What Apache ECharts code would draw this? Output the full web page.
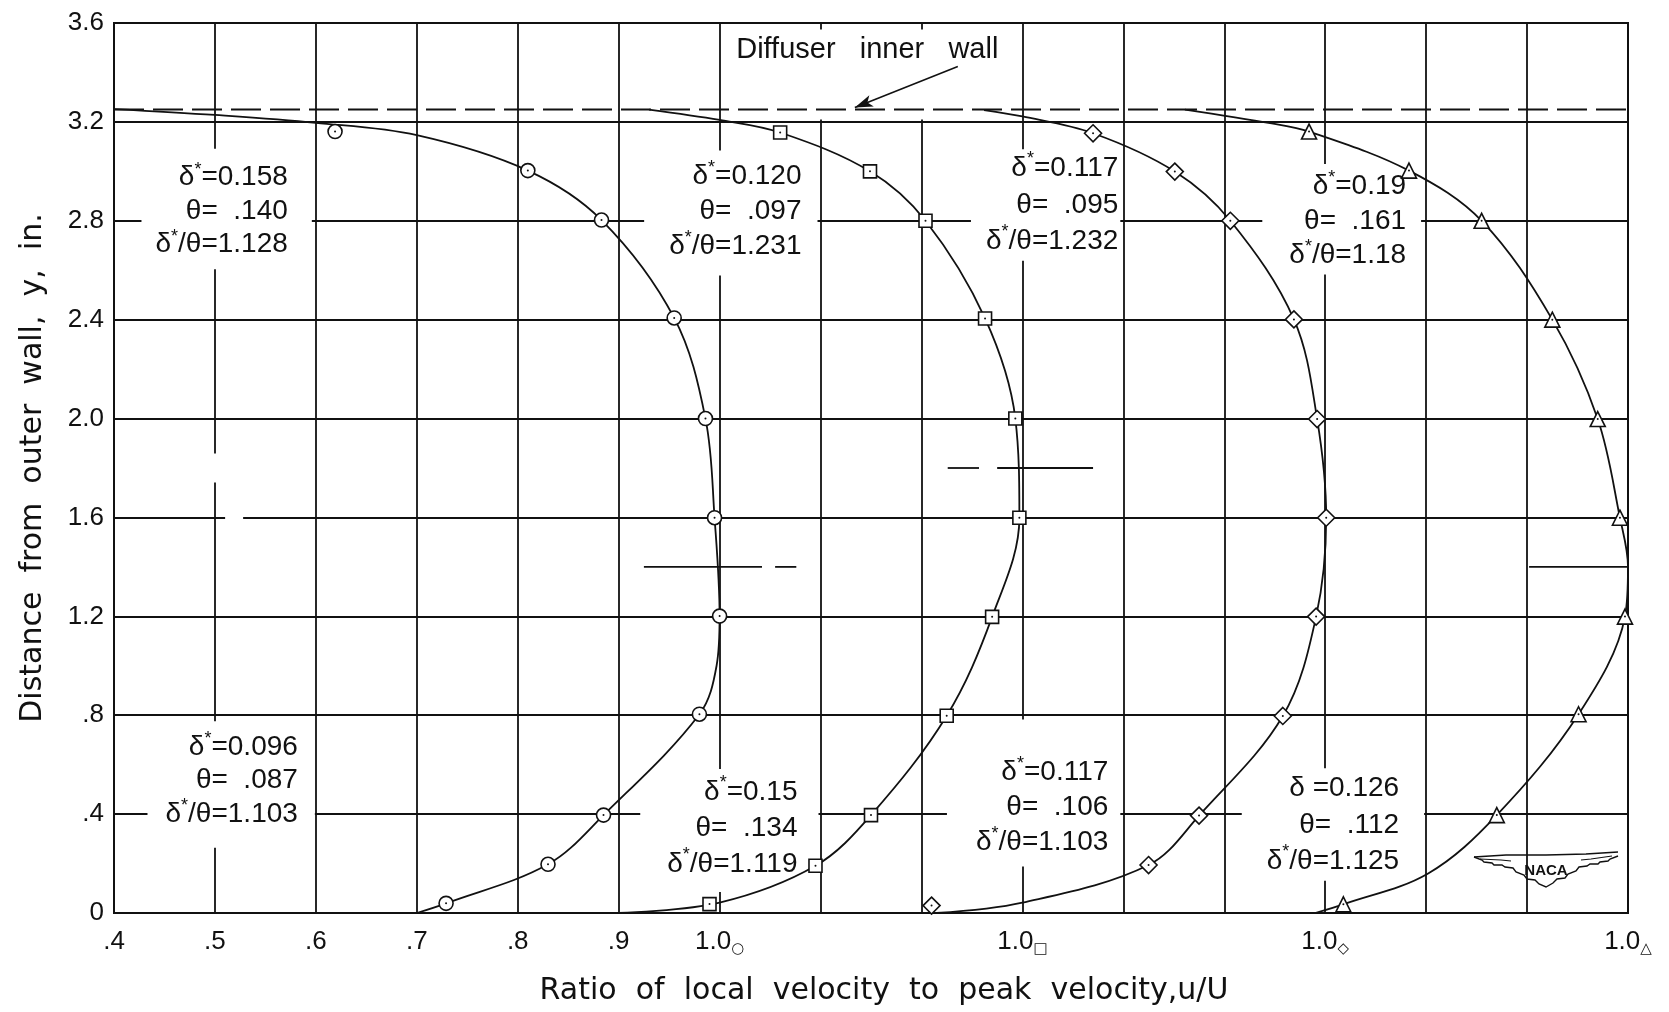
<!DOCTYPE html>
<html><head><meta charset="utf-8">
<script src="https://cdn.jsdelivr.net/npm/echarts@6/dist/echarts.min.js"></script>
<style>html,body{margin:0;padding:0;background:#fff}#c{width:1669px;height:1012px}</style>
</head><body><div id="c"></div>
<script>
// ---------- data ----------
const xTickLabels = ['.4','.5','.6','.7','.8','.9','1.0○','','','1.0□','','','1.0◇','','','1.0△'];
const yTickLabels = ['0','.4','.8','1.2','1.6','2.0','2.4','2.8','3.2','3.6'];

// measured points (abscissa shifted by 0.3 per profile), y in inches
const circlePts   = [[0.619,3.161],[0.810,3.003],[0.883,2.803],[0.955,2.407],[0.986,2.0],[0.995,1.599],[1.000,1.201],[0.980,0.804],[0.885,0.396],[0.830,0.197],[0.729,0.039]];
const squarePts   = [[1.060,3.157],[1.149,3.0],[1.204,2.80],[1.263,2.405],[1.293,2.0],[1.297,1.599],[1.270,1.198],[1.225,0.798],[1.150,0.396],[1.095,0.191],[0.990,0.036]];
const diamondPts  = [[1.370,3.154],[1.451,2.999],[1.506,2.80],[1.569,2.401],[1.592,1.998],[1.601,1.599],[1.591,1.199],[1.558,0.797],[1.475,0.394],[1.425,0.194],[1.210,0.030]];
const trianglePts = [[1.584,3.161],[1.683,3.003],[1.755,2.80],[1.825,2.40],[1.870,1.998],[1.892,1.599],[1.897,1.199],[1.851,0.804],[1.770,0.396],[1.618,0.035]];

// faired curves
const circleCurve   = [[0.4,3.252],[0.5,3.228],[0.6,3.196],[0.7,3.146],[0.810,3.003],[0.883,2.803],[0.955,2.407],[0.986,2.0],[0.995,1.599],[1.000,1.201],[0.997,1.0],[0.980,0.804],[0.885,0.396],[0.830,0.197],[0.729,0.039],[0.70,0.0]];
const squareCurve   = [[0.93,3.25],[1.0,3.208],[1.060,3.157],[1.149,3.0],[1.204,2.80],[1.263,2.405],[1.293,2.0],[1.297,1.599],[1.270,1.198],[1.225,0.798],[1.150,0.396],[1.095,0.191],[1.0,0.042],[0.90,0.0]];
const diamondCurve  = [[1.262,3.248],[1.30,3.222],[1.370,3.154],[1.451,2.999],[1.506,2.80],[1.569,2.401],[1.592,1.998],[1.601,1.599],[1.591,1.199],[1.558,0.797],[1.475,0.394],[1.425,0.194],[1.30,0.042],[1.215,0.0]];
const triangleCurve = [[1.461,3.25],[1.547,3.194],[1.584,3.161],[1.683,3.003],[1.755,2.80],[1.825,2.40],[1.870,1.998],[1.892,1.599],[1.900,1.40],[1.897,1.199],[1.851,0.804],[1.770,0.396],[1.702,0.16],[1.618,0.035],[1.59,0.0]];

const wallY = 3.25;
const wallX = [0.4, 1.9];
const partialLines = [
  [[0.925,1.4],[1.042,1.4]], [[1.055,1.4],[1.076,1.4]],
  [[1.226,1.8],[1.257,1.8]], [[1.275,1.8],[1.37,1.8]],
  [[1.802,1.4],[1.9,1.4]]
];
const arrowFrom = [1.236,3.424], arrowTo = [1.134,3.258];

// boundary-layer parameters
const deltaStarVals = ['0.158','0.096','0.120','0.117','0.19','0.15','0.117','0.126'];
const thetaVals     = ['.140','.087','.097','.095','.161','.134','.106','.112'];
const ratioVals     = ['1.128','1.103','1.231','1.232','1.18','1.119','1.103','1.125'];
const deltaStarred  = [true,true,true,true,true,true,true,false];
const wallLabel = 'Diffuser   inner   wall';

// ---------- layout (placement of text boxes) ----------
const annotLayout = [
  {at:[0.596,2.848], pad:[12,24,8,14],  lh:33.5},
  {at:[0.599,0.520], pad:[9,17,17,18],  lh:33.5},
  {at:[1.097,2.831], pad:[8,16,12,25],  lh:35},
  {at:[1.397,2.864], pad:[1,2,1,15],    lh:36.5},
  {at:[1.695,2.806], pad:[5,15,2,27],   lh:34.5},
  {at:[1.098,0.334], pad:[5,21,10,27],  lh:36},
  {at:[1.397,0.485], pad:[35,12,7,29],  lh:35},
  {at:[1.698,0.358], pad:[2,25,1,25],   lh:36.5}
];
const gridGaps = [{at:[0.519,1.6], size:[18,6]}, {at:[0.5,1.8], size:[6,29]}];

const FONT = 'Liberation Sans';
const TFONT = 'DejaVu Sans';
const INK = '#111';

function richFor(lh){
  return {
    t:{fontSize:28, fontFamily:FONT, color:INK, lineHeight:lh},
    s:{fontSize:18, fontFamily:FONT, color:INK, lineHeight:16, verticalAlign:'top'}
  };
}
function annotText(i){
  const star = deltaStarred[i] ? '{s|*}' : '{t| }';
  return '{t|δ}' + star + '{t|=' + deltaStarVals[i] + '}\n{t|θ=  ' + thetaVals[i] + '}\n{t|δ}{s|*}{t|/θ=' + ratioVals[i] + '}';
}

const series = [];
// text boxes (white background interrupts the grid, as in the original)
series.push({
  type:'scatter', z:3, symbolSize:0, silent:true, itemStyle:{opacity:1},
  data: annotLayout.map((a,i)=>({
    value:a.at,
    label:{show:true, position:'left', distance:0, align:'right', verticalAlign:'middle', opacity:1,
      backgroundColor:'#fff', padding:a.pad, formatter:annotText(i), rich:richFor(a.lh)}
  })).concat([{
    value:[1.296,3.392],
    label:{show:true, position:'left', distance:0, align:'right', verticalAlign:'middle', opacity:1,
      backgroundColor:'#fff', padding:[6,20,54,5],
      formatter:'{w|' + wallLabel + '}',
      rich:{w:{fontSize:29, fontFamily:FONT, color:INK, lineHeight:30}}}
  }])
});
series.push({
  type:'scatter', z:3, silent:true, symbol:'rect',
  itemStyle:{color:'#fff', opacity:1},
  data: gridGaps.map(g=>({value:g.at, symbolSize:g.size}))
});
// partial lines
partialLines.forEach(seg=>series.push({
  type:'line', z:4, silent:true, showSymbol:false, data:seg,
  lineStyle:{color:INK, width:1.8}
}));
// wall line + arrow
series.push({
  type:'line', z:5, silent:true, showSymbol:false,
  data:[[wallX[0],wallY],[wallX[1],wallY]],
  lineStyle:{color:INK, width:2, type:[30,9]},
  markLine:{silent:true, symbol:['none','arrow'], symbolSize:[9,18], label:{show:false},
    lineStyle:{color:INK, width:1.6, type:'solid'},
    data:[[{coord:arrowFrom},{coord:arrowTo}]]}
});
// curves
[circleCurve, squareCurve, diamondCurve, triangleCurve].forEach(c=>series.push({
  type:'line', z:5, silent:true, showSymbol:false, smooth:0.35, data:c,
  lineStyle:{color:INK, width:1.8}
}));
// markers
const markerDefs = [
  [circlePts,'circle',14],[squarePts,'rect',13],[diamondPts,'diamond',17],[trianglePts,'triangle',15]
];
markerDefs.forEach(([pts,sym,sz])=>{
  series.push({type:'scatter', z:6, silent:true, symbol:sym, symbolSize:sz, data:pts,
    itemStyle:{color:'#fff', borderColor:INK, borderWidth:1.6, opacity:1}});
  series.push({type:'scatter', z:7, silent:true, symbol:'circle', symbolSize:2, data:pts,
    itemStyle:{color:INK, opacity:1}});
});

const option = {
  backgroundColor:'#fff',
  animation:false,
  grid:{left:114, right:41, top:23, bottom:99, show:true, borderColor:INK, borderWidth:2, backgroundColor:'transparent'},
  xAxis:{
    type:'value', min:0.4, max:1.9, interval:0.1,
    name:'Ratio  of  local  velocity  to  peak  velocity,u/U', nameLocation:'middle', nameGap:63,
    nameTextStyle:{fontSize:30, fontFamily:TFONT, color:INK, padding:[0,0,0,26]},
    axisLine:{show:true, lineStyle:{color:INK, width:2}},
    axisTick:{show:false},
    splitLine:{show:true, lineStyle:{color:INK, width:1.8}},
    axisLabel:{margin:14, color:INK, fontFamily:FONT, fontSize:26,
      formatter:v=>{
        const s = xTickLabels[Math.round((v-0.4)*10)] || '';
        if (s.length>3) return '{n|'+s.slice(0,3)+'}{c|'+s.slice(3)+'}';
        return '{n|'+s+'}';
      },
      rich:{
        n:{fontSize:26, fontFamily:FONT, color:INK, lineHeight:30},
        c:{fontSize:15, fontFamily:'DejaVu Sans', color:INK, lineHeight:14, verticalAlign:'bottom'}
      }}
  },
  yAxis:{
    type:'value', min:0, max:3.6, interval:0.4,
    name:'Distance  from  outer  wall,  y,  in.', nameLocation:'middle', nameGap:66, nameRotate:90,
    nameTextStyle:{fontSize:30, fontFamily:TFONT, color:INK},
    axisLine:{show:true, lineStyle:{color:INK, width:2}},
    axisTick:{show:false},
    splitLine:{show:true, lineStyle:{color:INK, width:1.8}},
    axisLabel:{margin:10, color:INK, fontFamily:FONT, fontSize:26,
      formatter:v=>yTickLabels[Math.round(v/0.4)] || ''}
  },
  series:series
};

const chart = echarts.init(document.getElementById('c'));
chart.setOption(option);

// NACA emblem (decoration)
const cx = 1546, cy = 870;
const wingBottomL = [[-72,-13],[-64,-10],[-62,-8],[-54,-7],[-52,-5],[-44,-5],[-41,-3],[-33,-2],[-30,2],[-22,5],[-19,9],[-11,10],[-7,14],[0,17]];
const wingBottom = wingBottomL.concat(wingBottomL.slice(0,-1).reverse().map(p=>[-p[0],p[1]-1]));
chart.setOption({graphic:[{
  type:'group', x:cx, y:cy, silent:true, children:[
    {type:'polyline', shape:{points:[[-72,-13],[-40,-15],[0,-15],[40,-16],[72,-18]]}, style:{stroke:INK, lineWidth:1.6, fill:null}},
    {type:'polyline', shape:{points:wingBottom}, style:{stroke:INK, lineWidth:1.4, fill:null}},
    {type:'polyline', shape:{points:[[-66,-11],[-45,-10],[-35,-9]]}, style:{stroke:INK, lineWidth:1.1, fill:null}},
    {type:'polyline', shape:{points:[[66,-14],[45,-11],[35,-10]]}, style:{stroke:INK, lineWidth:1.1, fill:null}},
    {type:'text', style:{text:'NACA', x:0, y:1, align:'center', verticalAlign:'middle', font:'bold 15px "Liberation Sans"', fill:INK}}
  ]
}]});
</script></body></html>
